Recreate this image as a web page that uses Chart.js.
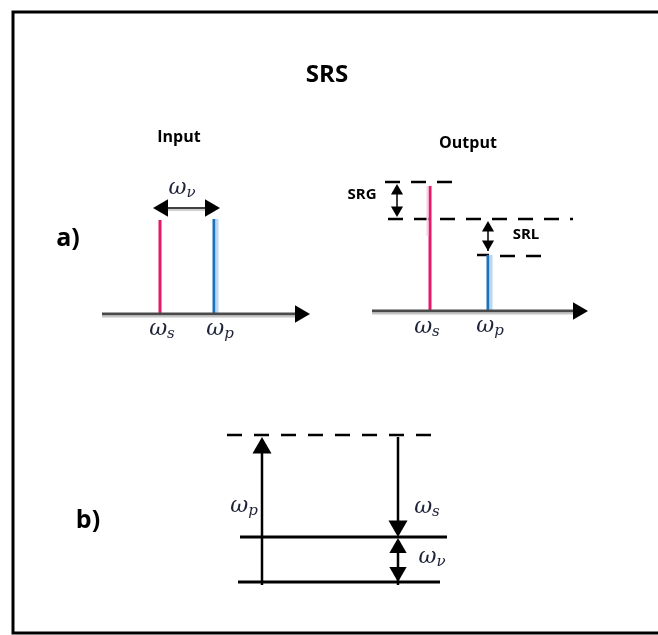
<!DOCTYPE html>
<html>
<head>
<meta charset="utf-8">
<script src="https://cdn.jsdelivr.net/npm/chart.js@4"></script>
<style>
  html, body { margin: 0; padding: 0; background: #fff; }
  canvas { display: block; }
</style>
</head>
<body>
<canvas id="chart" width="658" height="635"></canvas>
<script>
// Diagram space: x to the right, y downwards (y scale reversed), 1 unit = 1 px

// a) spectra, peaks for ω_s and ω_p
const peakColors = ['#e5186b', '#1b71bb'];
const inputPeakX = [160, 214];
const inputPeakTop = [220, 219];
const inputBaseY = 314;
const inputAxisX = [102, 310];
const outputPeakX = [430, 488];
const outputPeakTop = [186, 255];
const outputBaseY = 311;
const outputAxisX = [372, 588];

// dashed guide lines on the output spectrum
const guideY = [182, 219, 256];
const guideX0 = [385, 414, 500];
const guideX1 = [452, 573, 542];

// b) energy levels: virtual, ν=1, ν=0
const levelY = [435, 537, 582];
const levelX0 = [227, 240, 238];
const levelX1 = [437, 447, 440];
const pumpX = 262;
const stokesX = 398;

const textLabels = [
  { text: 'SRS', x: 327, y: 75, size: 24 },
  { text: 'Input', x: 179, y: 137, size: 16 },
  { text: 'Output', x: 468, y: 143, size: 16 },
  { text: 'a)', x: 68, y: 239, size: 25 },
  { text: 'b)', x: 88, y: 521, size: 25 },
  { text: 'SRG', x: 362, y: 195, size: 15 },
  { text: 'SRL', x: 526, y: 235, size: 15 }
];
const omegaLabels = [
  { sub: 'ν', x: 182, y: 188 },
  { sub: 's', x: 162, y: 329 },
  { sub: 'p', x: 220, y: 329 },
  { sub: 's', x: 427, y: 327 },
  { sub: 'p', x: 490, y: 326 },
  { sub: 'p', x: 244, y: 506 },
  { sub: 's', x: 427, y: 507 },
  { sub: 'ν', x: 432, y: 557 }
];

function seg(x0, y0, x1, y1, color, width, dash) {
  return {
    data: [{ x: x0, y: y0 }, { x: x1, y: y1 }],
    showLine: true,
    borderColor: color,
    borderWidth: width,
    borderDash: dash || [],
    borderCapStyle: 'butt',
    pointRadius: 0,
    fill: false
  };
}

const datasets = [];

// frame
datasets.push({
  data: [{ x: 658, y: 12 }, { x: 13, y: 12 }, { x: 13, y: 633 }, { x: 658, y: 633 }],
  showLine: true, borderColor: '#000', borderWidth: 3, pointRadius: 0, fill: false
});

// spectrum axes
datasets.push(seg(inputAxisX[0], inputBaseY + 2.5, inputAxisX[1] - 12, inputBaseY + 2.5, '#c4c4c4', 2));
datasets.push(seg(inputAxisX[0], inputBaseY, inputAxisX[1] - 12, inputBaseY, '#4a4a4a', 3));
datasets.push(seg(outputAxisX[0], outputBaseY + 2.5, outputAxisX[1] - 12, outputBaseY + 2.5, '#c4c4c4', 2));
datasets.push(seg(outputAxisX[0], outputBaseY, outputAxisX[1] - 12, outputBaseY, '#4a4a4a', 3));

// peaks
inputPeakX.forEach((px, i) => {
  if (i === 1) datasets.push(seg(px + 3, inputPeakTop[i], px + 3, inputBaseY, '#bcd8ee', 3));
  datasets.push(seg(px, inputPeakTop[i], px, inputBaseY, peakColors[i], 3));
});
outputPeakX.forEach((px, i) => {
  if (i === 0) datasets.push(seg(px - 2.5, outputPeakTop[i], px - 2.5, outputPeakTop[i] + 50, '#f7d0de', 2));
  if (i === 1) datasets.push(seg(px + 3, outputPeakTop[i], px + 3, outputBaseY, '#bcd8ee', 3));
  datasets.push(seg(px, outputPeakTop[i], px, outputBaseY, peakColors[i], 3));
});

// ω_ν spacing arrow shaft
datasets.push(seg(inputPeakX[0] + 6, 210, inputPeakX[1] - 4, 210, '#cfcfcf', 2));
datasets.push(seg(inputPeakX[0] + 6, 208, inputPeakX[1] - 4, 208, '#000', 1.5));

// output guide lines and caps
guideY.forEach((gy, i) => datasets.push(seg(guideX0[i], gy, guideX1[i], gy, '#000', 2.5, [15, 11])));
datasets.push(seg(388, guideY[1], 403, guideY[1], '#000', 2.5));
datasets.push(seg(477, outputPeakTop[1], 489, outputPeakTop[1], '#000', 2.5));
// SRG / SRL shafts
datasets.push(seg(397, guideY[0] + 4, 397, guideY[1] - 4, '#000', 1.5));
datasets.push(seg(outputPeakX[1], guideY[1] + 4, outputPeakX[1], outputPeakTop[1] - 4, '#000', 1.5));

// b) levels
levelY.forEach((ly, i) => datasets.push(seg(levelX0[i], ly, levelX1[i], ly, '#000', i === 0 ? 2.5 : 3, i === 0 ? [15, 12] : [])));
datasets.push(seg(pumpX, levelY[2] + 3, pumpX, levelY[0] + 12, '#000', 2.5));
datasets.push(seg(stokesX, levelY[0] + 2, stokesX, levelY[1] - 12, '#000', 2.5));
datasets.push(seg(stokesX, levelY[1] + 10, stokesX, levelY[2] + 3, '#000', 2.5));

// arrow heads: tip position, direction, size
const headTipX = [inputAxisX[1], outputAxisX[1], 153, 220, 397, 397, outputPeakX[1], outputPeakX[1], pumpX, stokesX, stokesX, stokesX];
const headTipY = [inputBaseY, outputBaseY, 208, 208, guideY[0] + 2, guideY[1] - 2, guideY[1] + 2, outputPeakTop[1] - 4, levelY[0] + 2, levelY[1], levelY[1] + 1, levelY[2]];
const headDir = ['right', 'right', 'left', 'right', 'up', 'down', 'up', 'down', 'up', 'down', 'up', 'down'];
const headSize = [10, 10, 10, 10, 7, 7, 7, 7, 11, 11, 10, 10];
const dirRot = { up: 0, right: 90, down: 180, left: 270 };
const dirVec = { up: [0, -1], right: [1, 0], down: [0, 1], left: [-1, 0] };

datasets.push({
  data: headTipX.map((tx, i) => ({
    x: tx - dirVec[headDir[i]][0] * headSize[i],
    y: headTipY[i] - dirVec[headDir[i]][1] * headSize[i]
  })),
  showLine: false,
  pointStyle: 'triangle',
  pointRadius: headSize,
  pointRotation: headDir.map(d => dirRot[d]),
  pointBackgroundColor: '#000',
  pointBorderWidth: 0,
  order: -1
});

const labelPlugin = {
  id: 'labels',
  afterDatasetsDraw(chart) {
    const { ctx, scales: { x, y } } = chart;
    ctx.save();
    ctx.textBaseline = 'middle';
    ctx.textAlign = 'center';
    ctx.fillStyle = '#000';
    textLabels.forEach(l => {
      ctx.font = `bold ${l.size}px "Open Sans"`;
      ctx.fillText(l.text, x.getPixelForValue(l.x), y.getPixelForValue(l.y));
    });
    const big = 'italic 22px "DejaVu Serif"';
    const small = 'italic 15px "DejaVu Serif"';
    ctx.textAlign = 'left';
    ctx.fillStyle = '#1e2238';
    omegaLabels.forEach(l => {
      ctx.font = big;
      const w1 = ctx.measureText('ω').width;
      ctx.font = small;
      const w2 = ctx.measureText(l.sub).width;
      const px = x.getPixelForValue(l.x) - (w1 + w2) / 2;
      const py = y.getPixelForValue(l.y);
      ctx.font = big;
      ctx.fillText('ω', px, py);
      ctx.font = small;
      ctx.fillText(l.sub, px + w1, py + 5);
    });
    ctx.restore();
  }
};

new Chart(document.getElementById('chart'), {
  type: 'scatter',
  data: { datasets },
  options: {
    responsive: false,
    animation: false,
    events: [],
    layout: { padding: 0, autoPadding: false },
    plugins: { legend: { display: false }, tooltip: { enabled: false } },
    scales: {
      x: { type: 'linear', min: 0, max: 658, display: false },
      y: { type: 'linear', min: 0, max: 635, reverse: true, display: false }
    }
  },
  plugins: [labelPlugin]
});
</script>
</body>
</html>
